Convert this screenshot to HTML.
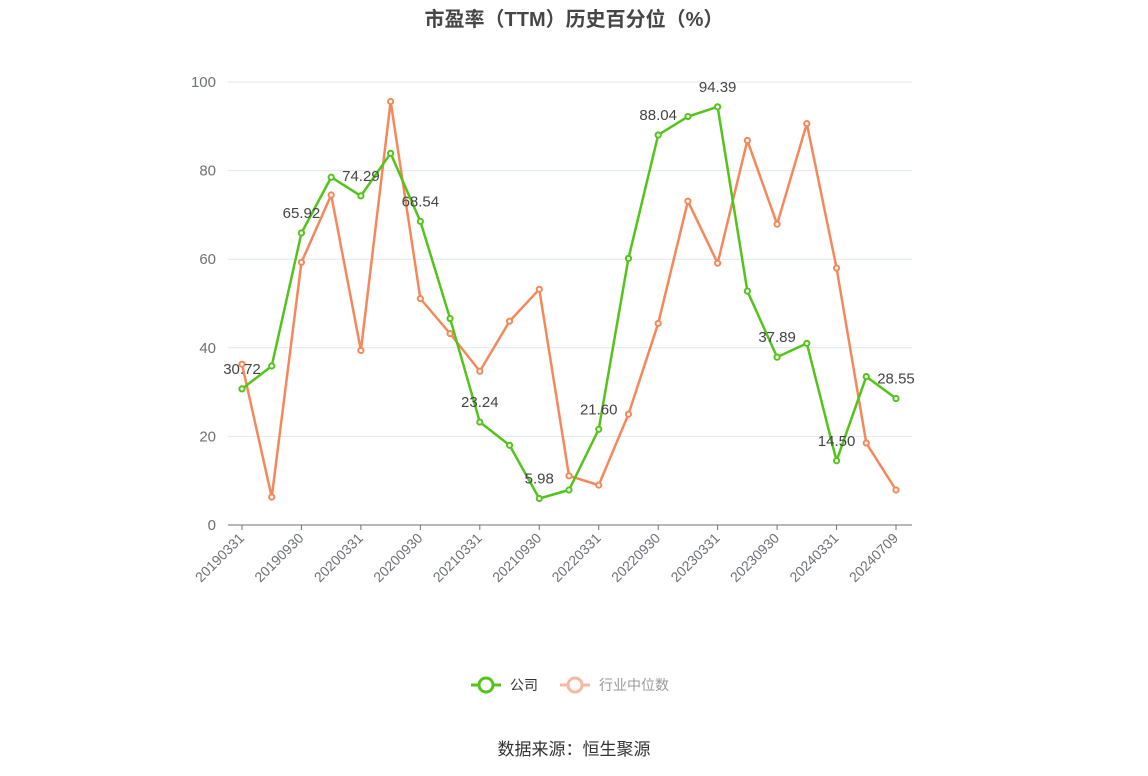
<!DOCTYPE html>
<html><head><meta charset="utf-8"><style>
body{margin:0;background:#fff;}
svg{display:block;font-family:"Liberation Sans","Noto Sans CJK SC",sans-serif;}
</style></head><body>
<svg id="chart" width="1148" height="776">
<text x="574" y="26" text-anchor="middle" font-size="20" font-weight="bold" fill="#464646">市盈率（TTM）历史百分位（%）</text>
<g id="grid"></g><g id="xaxis"></g><g id="series"></g><g id="labels"></g>
<g>
<line x1="471" y1="685" x2="501" y2="685" stroke="#52c41a" stroke-width="3"/>
<circle cx="486" cy="685" r="7" fill="#fff" stroke="#52c41a" stroke-width="3"/>
<text x="510" y="690" font-size="14" fill="#333">公司</text></g>
<g>
<line x1="560" y1="685" x2="590" y2="685" stroke="#f8b8a0" stroke-width="3"/>
<circle cx="575" cy="685" r="7" fill="#fff" stroke="#f8b8a0" stroke-width="3"/>
<text x="599" y="690" font-size="14" fill="#999">行业中位数</text></g>
<text x="574" y="755" text-anchor="middle" font-size="17" fill="#333">数据来源：恒生聚源</text>
</svg>
<script>
const categories=["20190331","20190630","20190930","20191231","20200331","20200630","20200930","20201231","20210331","20210630","20210930","20211231","20220331","20220630","20220930","20221231","20230331","20230630","20230930","20231231","20240331","20240630","20240709"];
const companyValues=[30.72,35.9,65.92,78.5,74.29,83.9,68.54,46.6,23.24,18.0,5.98,7.9,21.60,60.2,88.04,92.2,94.39,52.8,37.89,41.0,14.50,33.5,28.55];
const industryValues=[36.3,6.3,59.3,74.5,39.4,95.6,51.1,43.2,34.7,46.0,53.2,11.1,9.0,25.0,45.5,73.1,59.1,86.8,67.9,90.6,58.0,18.5,7.9];
const yTicks=[0,20,40,60,80,100];
const labelIdx=[0,2,4,6,8,10,12,14,16,18,20,22];
const NS="http://www.w3.org/2000/svg";
const X0=242,X1=896,Y0=525,Y1=82;
const xs=i=>X0+(X1-X0)*i/(categories.length-1);
const ys=v=>Y0-(Y0-Y1)*v/100;
function mk(tag,attrs,parent,txt){const e=document.createElementNS(NS,tag);for(const k in attrs)e.setAttribute(k,attrs[k]);if(txt!==undefined)e.textContent=txt;document.getElementById(parent).appendChild(e);return e;}
yTicks.forEach(t=>{
  const l=mk('line',{x1:228,x2:912,y1:ys(t),y2:ys(t),stroke:t===0?'#6e7079':'#e0e6f1','stroke-width':1},'grid');
  
  
  const tx=mk('text',{x:216,y:ys(t)+5,'text-anchor':'end','font-size':15,fill:'#6e7079'},'grid',String(t));
  
  
});
categories.forEach((c,i)=>{
  if(i%2!==0&&i!==categories.length-1)return;
  const x=xs(i);
  const tk=mk('line',{x1:x,x2:x,y1:Y0,y2:Y0+5,stroke:'#6e7079'},'xaxis');
  
  
  const tx=mk('text',{x:x+3,y:Y0+14,'text-anchor':'end','font-size':14,fill:'#6e7079',transform:`rotate(-45 ${x+3} ${Y0+14})`},'xaxis',c);
  
  
});
function drawSeries(vals,color,name){
  const pl=mk('polyline',{points:vals.map((v,i)=>xs(i)+','+ys(v)).join(' '),fill:'none',stroke:color,'stroke-width':2.5,'stroke-linejoin':'round'},'series');
  
  
  vals.forEach((v,i)=>{
    const c=mk('circle',{cx:xs(i),cy:ys(v),r:2.6,fill:'#fff',stroke:color,'stroke-width':2},'series');
    
    
  });
}
drawSeries(industryValues,'#f5885a','industry-median');
drawSeries(companyValues,'#52c41a','company');
labelIdx.forEach(i=>{
  const t=mk('text',{x:xs(i),y:ys(companyValues[i])-15,'text-anchor':'middle','font-size':15,fill:'#444'},'labels',companyValues[i].toFixed(2));
  
  
});
</script>
</body></html>
